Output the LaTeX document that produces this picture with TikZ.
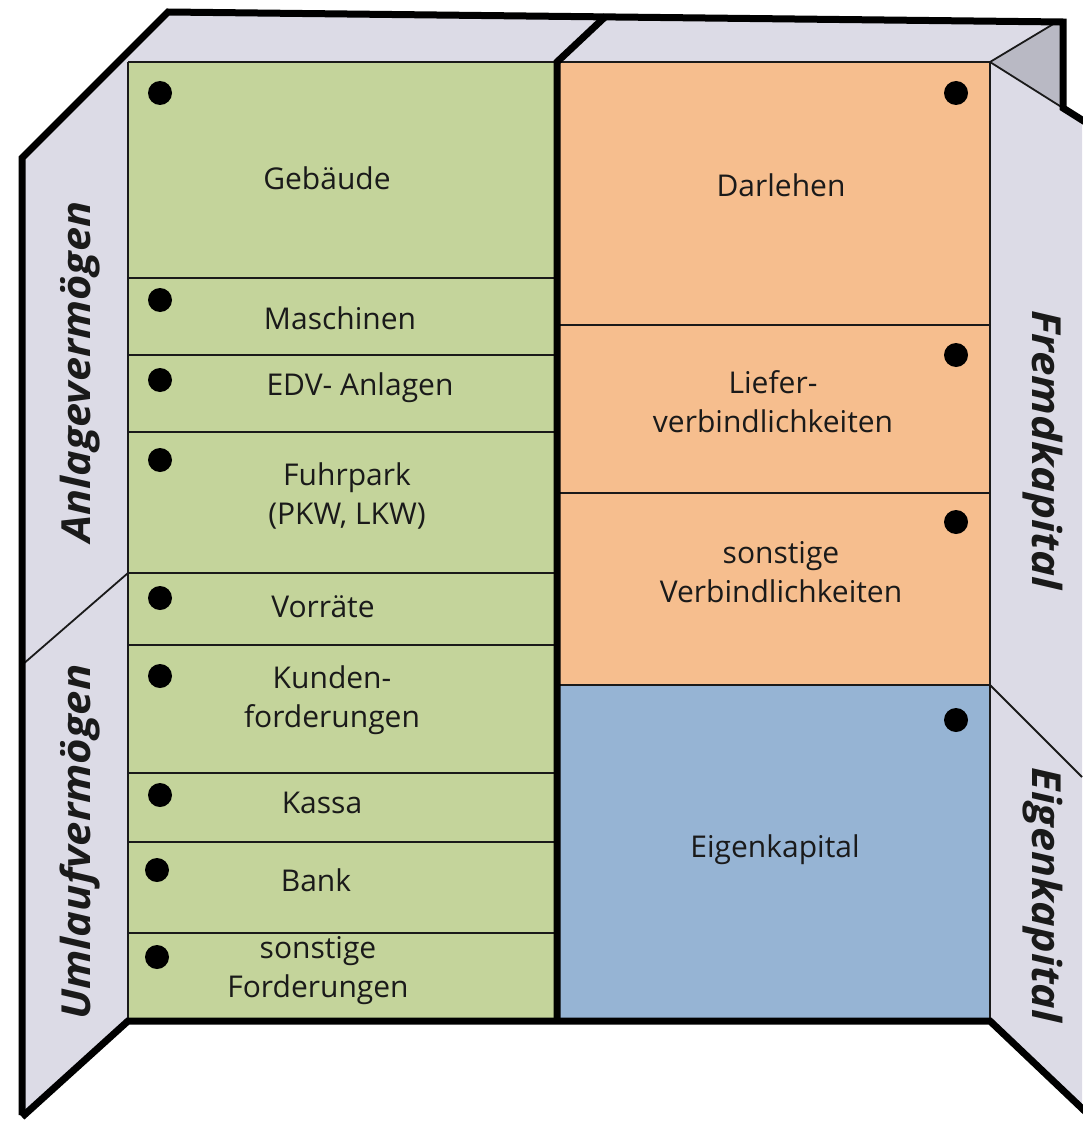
\documentclass[tikz,border=0pt]{standalone}
\usepackage{fontspec}
\setmainfont{Open Sans}
\definecolor{assetgreen}{HTML}{C4D49B}
\definecolor{debtorange}{HTML}{F6BE8E}
\definecolor{equityblue}{HTML}{96B4D4}
\definecolor{panelgray}{HTML}{DCDBE6}
\definecolor{shadegray}{HTML}{B9B9C4}
\definecolor{inkdark}{HTML}{1A1A1A}
\begin{document}
\begin{tikzpicture}[x=1pt,y=-1pt,line join=miter,
  fineline/.style={line width=1.8pt,draw=inkdark},
  heavyline/.style={line width=7pt,draw=black},
  dot/.style={circle,fill=black,minimum size=24pt,inner sep=0pt},
  item/.style={font=\fontsize{30}{39}\selectfont,align=center,text=inkdark,inner sep=0pt},
  sidelabel/.style={font=\fontsize{40}{40}\selectfont\bfseries\itshape,text=inkdark,inner sep=0pt}]
\useasboundingbox (0,0) rectangle (1082,1121);

% folded box: top lid, side flaps, shaded corner
\fill[panelgray] (128,62) -- (168,12) -- (1060,20) -- (990,62) -- cycle;
\fill[shadegray] (990,62) -- (1060,20) -- (1063,108) -- cycle;
\fill[panelgray] (168,12) -- (22,158) -- (22,1115) -- (128,1020) -- (128,62) -- cycle;
\fill[panelgray] (990,62) -- (1082,120) -- (1082,1110) -- (990,1018) -- cycle;

% assets column
\fill[assetgreen] (128,62) rectangle (557,1020);
% liabilities and equity column
\fill[debtorange] (557,62) rectangle (990,685);
\fill[equityblue] (557,685) rectangle (990,1018);

% row separators
\foreach \yy in {278,355,432,573,645,773,842,933}
  \draw[fineline] (128,\yy) -- (557,\yy);
\foreach \yy in {325,493,685}
  \draw[fineline] (557,\yy) -- (990,\yy);
\draw[fineline] (128,62) -- (990,62);
\draw[fineline] (128,62) -- (128,1020);
\draw[fineline] (990,62) -- (990,1018);
\draw[fineline] (990,62) -- (1060,20);
\draw[fineline] (990,62) -- (1063,108);
% flap dividers
\draw[fineline] (128,573) -- (22,665);
\draw[fineline] (990,685) -- (1082,777);

% heavy outlines
\draw[heavyline] (22,1115) -- (22,158) -- (168,12) -- (1063,22) -- (1063,108) -- (1090,125);
\draw[heavyline] (22,1117) -- (128,1021) -- (990,1021) -- (1090,1116);
\draw[heavyline] (606,16) -- (557,62) -- (557,1023);

% asset items
\node[item] (gebaeude) at (327,178) {Gebäude};
\node[item] (maschinen) at (340,318) {Maschinen};
\node[item] (edv) at (360,388) {EDV- Anlagen};
\node[item] (fuhrpark) at (347,496) {Fuhrpark\\(PKW, LKW)};
\node[item] (vorraete) at (323,607) {Vorräte};
\node[item] (kunden) at (332,700) {Kunden-\\forderungen};
\node[item] (kassa) at (322,803) {Kassa};
\node[item] (bank) at (316,880) {Bank};
\node[item] (sonstforderungen) at (318,971) {sonstige\\Forderungen};

% liability and equity items
\node[item] (darlehen) at (781,185) {Darlehen};
\node[item] (liefer) at (773,402) {Liefer-\\verbindlichkeiten};
\node[item] (sonstverb) at (781,572) {sonstige\\Verbindlichkeiten};
\node[item] (eigen) at (775,850) {Eigenkapital};

% bullets
\node[dot] (dg) at (160,93) {};
\node[dot] (dm) at (160,300) {};
\node[dot] (de) at (160,380) {};
\node[dot] (df) at (160,460) {};
\node[dot] (dv) at (160,598) {};
\node[dot] (dk) at (160,676) {};
\node[dot] (dka) at (160,795) {};
\node[dot] (db) at (157,870) {};
\node[dot] (ds) at (157,957) {};
\node[dot] (dd) at (956,93) {};
\node[dot] (dl) at (956,355) {};
\node[dot] (dsv) at (956,522) {};
\node[dot] (dek) at (956,720) {};

% flap labels
\node[sidelabel,rotate=90] (anlage) at (80,372) {\scalebox{1.08}[1]{Anlagevermögen}};
\node[sidelabel,rotate=90] (umlauf) at (80,842) {\scalebox{1.09}[1]{Umlaufvermögen}};
\node[sidelabel,rotate=-90] (fremd) at (1043,450) {\scalebox{1.1}[1]{Fremdkapital}};
\node[sidelabel,rotate=-90] (eigenlabel) at (1043,895) {\scalebox{1.08}[1]{Eigenkapital}};
\end{tikzpicture}
\end{document}
